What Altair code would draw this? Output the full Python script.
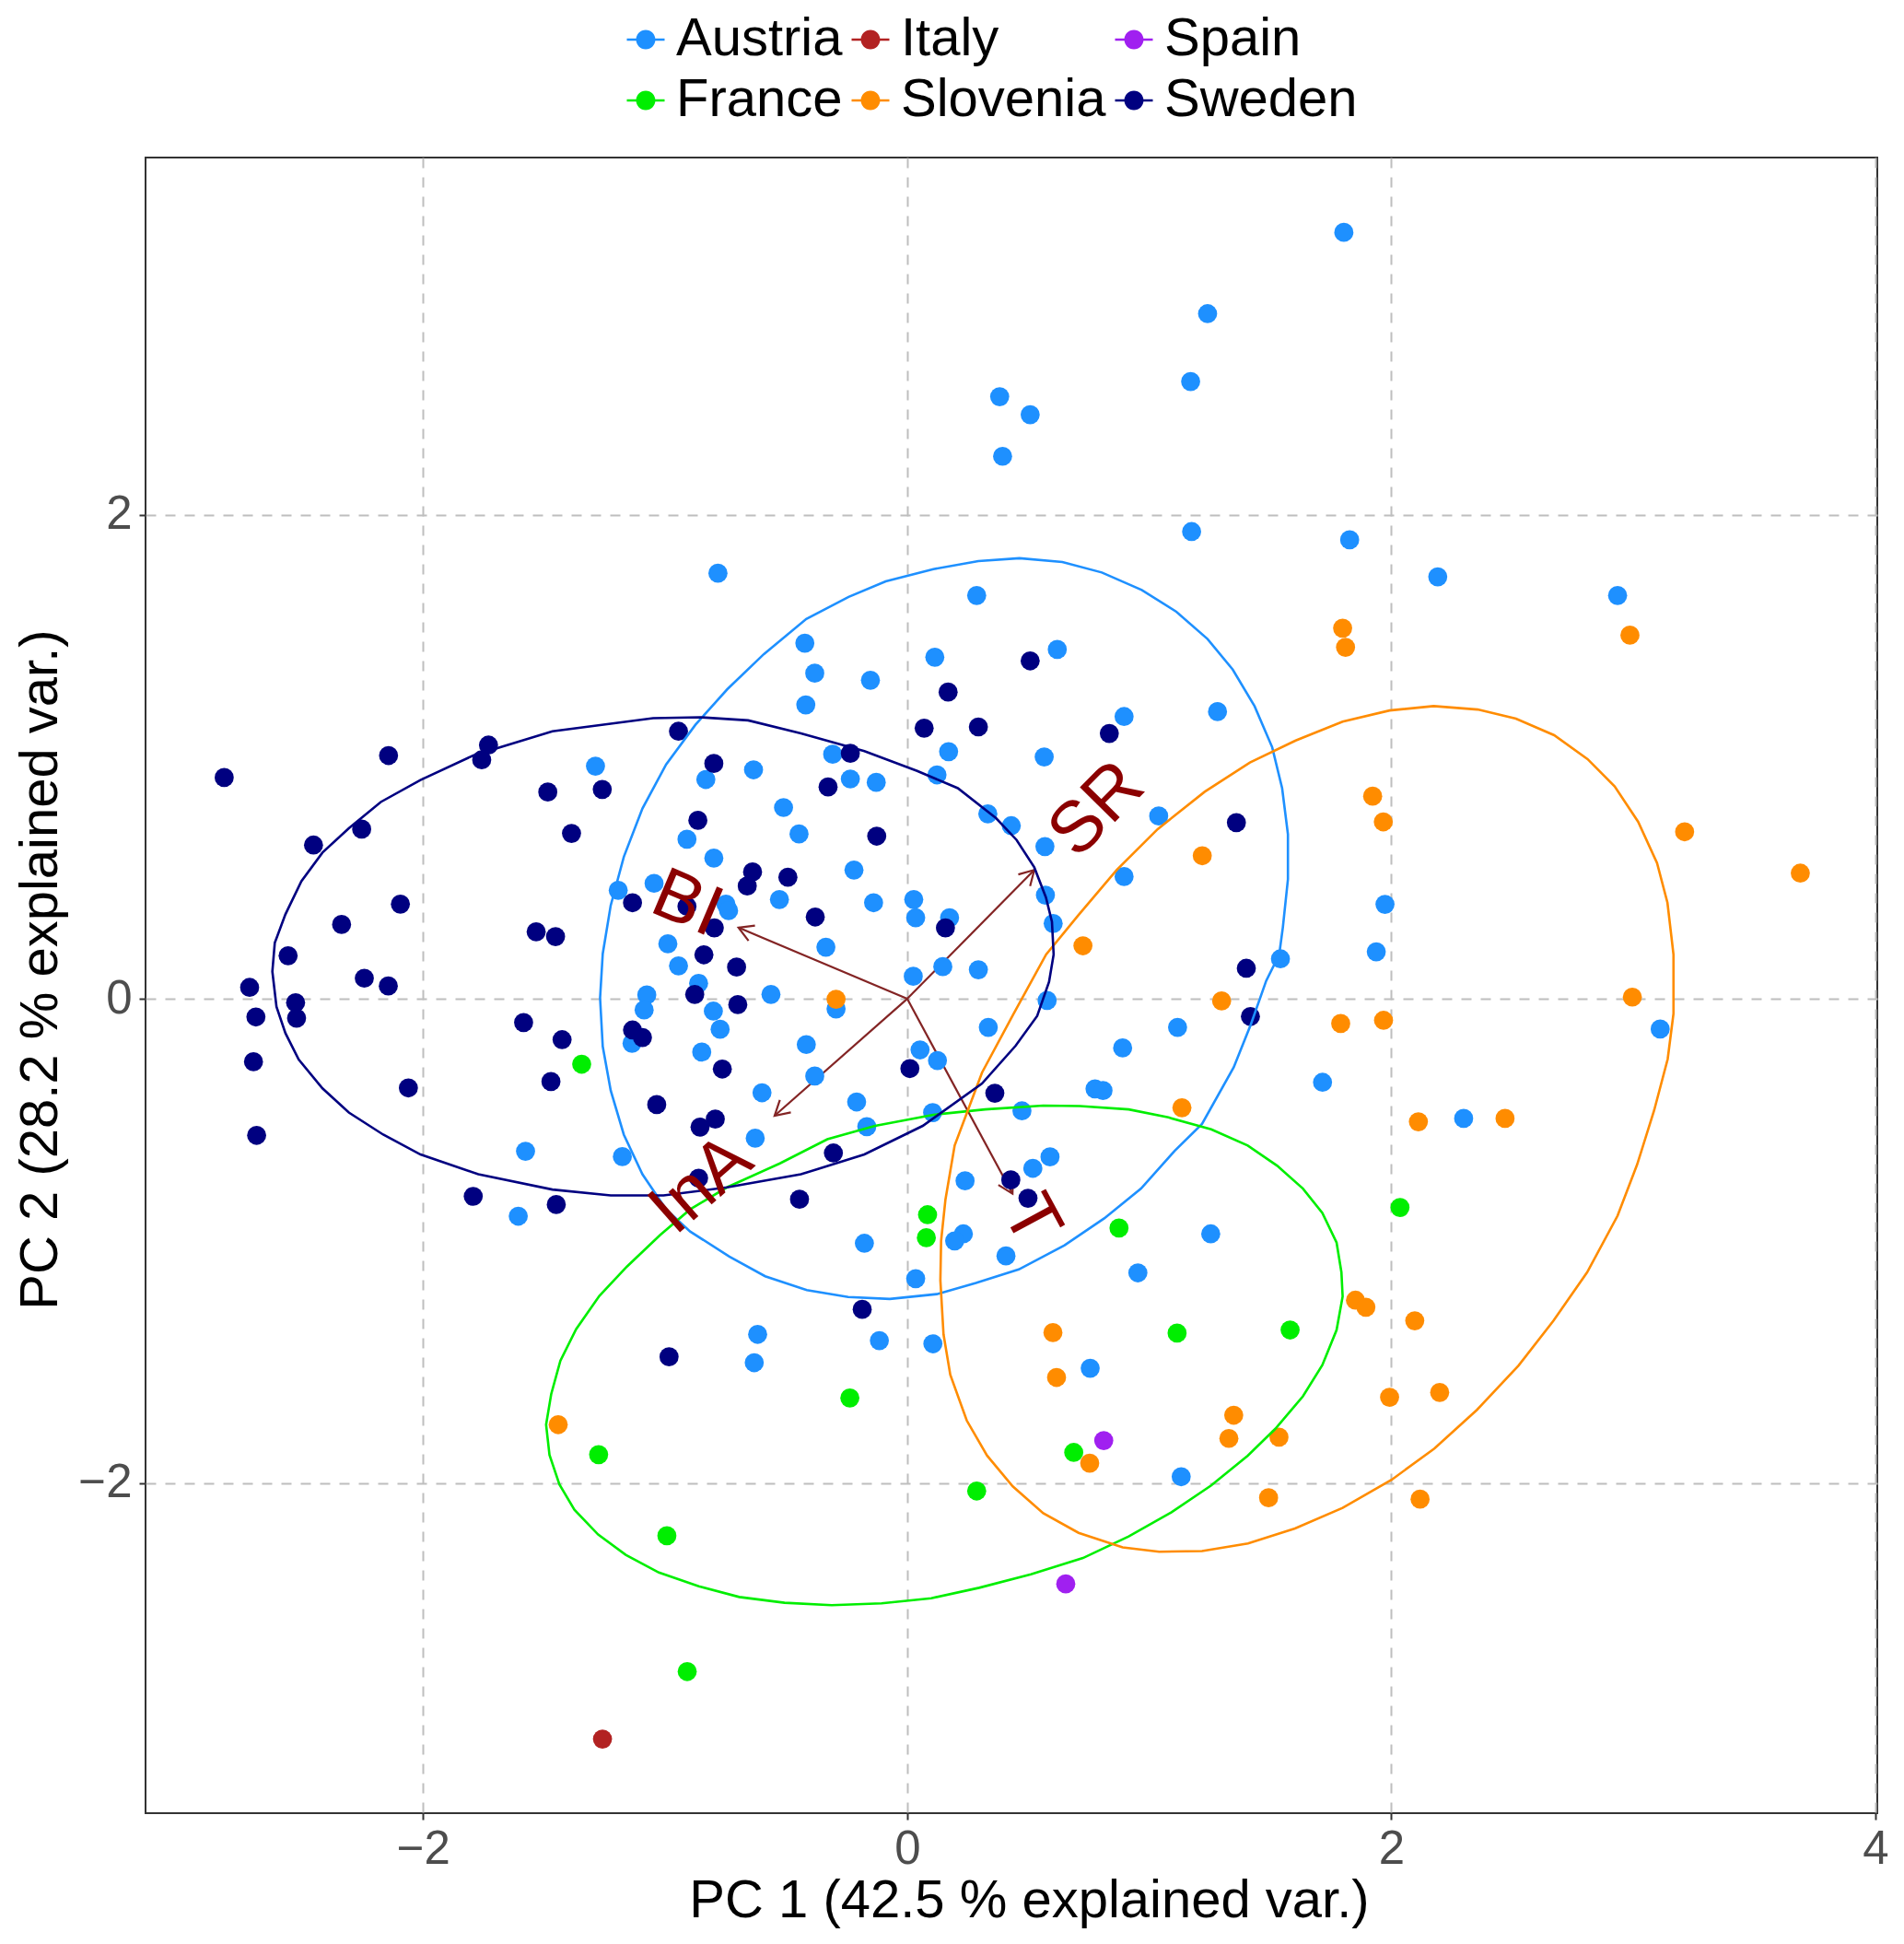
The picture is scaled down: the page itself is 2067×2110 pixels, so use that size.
import math

import altair as alt
import pandas as pd

FONT = "Liberation Sans, Arial, Helvetica, sans-serif"

# PC scores of the samples (PC1 = x, PC2 = y)
austria_x = [-0.782, -0.423, -0.382, -0.152, -0.419, 0.114, 0.171, 0.123, -0.308, -0.635,
             -0.832, -1.288, -0.235, -0.128, -0.511, -0.447, -0.910, -0.799, -0.220, -1.046,
             -1.194, -0.749, -0.738, -0.528, -0.139, 0.027, 0.035, 0.175, -0.989, -0.336,
             -0.945, -0.862, 0.025, 0.147, -1.076, -1.087, -0.563, -0.801, -0.773, -0.294,
             -1.137, -0.417, -0.849, 0.053, 0.125, -0.382, -0.600, -0.209, 0.105, -0.167,
             -0.628, -1.577, -1.177, -1.607, 0.239,
             1.804, 1.241, 1.171, 0.382, 0.508, 0.394, 1.175, 1.828, 2.192, 2.935,
             0.287, 0.620, 0.896, 1.282, 0.566, 0.333, 0.430, 0.569, 1.039, 0.896,
             0.571, 0.603, 1.974, 1.938, 1.542, 0.294, 0.578,
             0.335, 1.117, 3.111, 0.890, 0.776, 0.809, 1.716, 2.299, 0.474, 0.590,
             0.519, 1.254, 0.953, 0.756, 1.132,
             0.232, 0.196, 0.408, -0.177, 0.035, -0.618, -0.632, -0.115, 0.106]
austria_y = [1.758, 1.469, 1.345, 1.316, 1.214, 1.411, 1.021, 0.925, 1.010, 0.946,
             0.906, 0.961, 0.908, 0.894, 0.790, 0.681, 0.659, 0.581, 0.532, 0.477,
             0.448, 0.391, 0.364, 0.410, 0.397, 0.410, 0.335, 0.335, 0.227, 0.213,
             0.136, 0.064, 0.093, 0.133, 0.016, -0.046, 0.018, -0.051, -0.126, -0.042,
             -0.184, -0.189, -0.220, -0.211, -0.255, -0.319, -0.388, -0.426, -0.470, -0.528,
             -0.576, -0.630, -0.652, -0.898, -0.752,
             3.166, 2.830, 2.550, 2.487, 2.413, 2.241, 1.930, 1.896, 1.743, 1.666,
             1.666, 1.443, 1.166, 1.186, 0.999, 0.764, 0.715, 0.629, 0.755, 0.505,
             0.428, 0.311, 0.390, 0.194, 0.165, 0.120, -0.007,
             -0.118, -0.118, -0.125, -0.203, -0.372, -0.379, -0.345, -0.494, -0.463, -0.653,
             -0.700, -0.971, -1.132, -1.526, -1.974,
             -0.971, -1.000, -1.062, -1.010, -1.156, -1.386, -1.503, -1.412, -1.425]

france_x = [-1.345, 0.084, 0.079, -0.237, -1.275, 0.287, -0.993, -0.909, 0.875, 2.036,
            1.115, 1.582, 0.688]
france_y = [-0.270, -0.892, -0.987, -1.649, -1.883, -2.033, -2.218, -2.779, -0.947, -0.862,
            -1.381, -1.368, -1.874]

italy_x = [-1.259]
italy_y = [-3.058]

slovenia_x = [-0.294, 1.799, 1.811, 2.986, 1.923, 1.967, 3.212, 3.690, 1.219, 0.726,
              1.299, 2.996, 1.791, 1.968, 1.135, 2.112, 2.470, 1.852, 1.895, 2.097,
              0.602, 0.617, 1.993, 2.200, 1.349, 1.329, 1.536, 0.754, 1.493, 2.119, -1.442]
slovenia_y = [-0.002, 1.531, 1.452, 1.502, 0.837, 0.731, 0.690, 0.519, 0.591, 0.219,
              -0.009, 0.007, -0.102, -0.089, -0.450, -0.508, -0.494, -1.245, -1.274, -1.330,
              -1.379, -1.564, -1.646, -1.626, -1.720, -1.816, -1.811, -1.918, -2.061, -2.067, -1.759]

spain_x = [0.812, 0.655]
spain_y = [-1.825, -2.417]

sweden_x = [-2.822, -2.143, -1.730, -1.758, -0.945, -0.799, -1.485, -1.260, -2.254, -2.453,
            -1.387, -0.865, -0.235, -0.327, -0.126, 0.169, 0.070, -0.639, -0.661, -0.493,
            -0.910, -1.135, -0.797, -0.380, 0.158, -2.094, -2.337, -2.558, -1.533, -1.453,
            -0.840, -0.705, -2.243, -2.144, -2.717, -2.527, -2.691, -2.523, -0.878, -0.700,
            -1.585, -1.426, -1.135, -1.094, -2.701, -1.472, -0.764, -2.061, 0.011, -1.035,
            -2.688, -0.793, -0.856, -0.305, -0.862, -1.793, -1.450, -0.445,
            0.508, 0.294, 0.835, 1.360, 1.401, 1.418, 0.362, 0.428, 0.499, -0.186, -0.984]
sweden_y = [0.914, 1.005, 1.048, 0.987, 1.105, 0.972, 0.854, 0.865, 0.701, 0.635,
            0.683, 0.737, 1.014, 0.875, 0.672, 1.267, 1.118, 0.524, 0.466, 0.502,
            0.382, 0.397, 0.293, 0.338, 0.293, 0.391, 0.307, 0.178, 0.277, 0.257,
            0.182, 0.131, 0.085, 0.053, 0.047, -0.016, -0.075, -0.080, 0.018, -0.024,
            -0.098, -0.169, -0.129, -0.160, -0.260, -0.342, -0.290, -0.368, -0.288, -0.437,
            -0.564, -0.497, -0.530, -0.637, -0.741, -0.816, -0.850, -0.828,
            1.396, 1.123, 1.096, 0.728, 0.126, -0.073, -0.390, -0.748, -0.824, -1.283, -1.479]

# group ellipses
ell_austria_x = [0.464, 0.294, 0.108, -0.089, -0.242, -0.417, -0.592, -0.744, -0.875, -0.996,
                 -1.094, -1.171, -1.225, -1.258, -1.269, -1.258, -1.225, -1.171, -1.094, -0.996,
                 -0.897, -0.735, -0.587, -0.415, -0.244, -0.072, 0.122, 0.284, 0.461, 0.650,
                 0.814, 0.966, 1.105, 1.218, 1.349, 1.420, 1.483, 1.537, 1.552, 1.573,
                 1.573, 1.549, 1.508, 1.435, 1.345, 1.241, 1.112, 0.969, 0.804, 0.641]
ell_austria_y = [1.820, 1.808, 1.775, 1.724, 1.660, 1.569, 1.424, 1.278, 1.132, 0.968,
                 0.786, 0.586, 0.386, 0.186, 0.003, -0.197, -0.379, -0.561, -0.725, -0.870,
                 -0.961, -1.065, -1.146, -1.203, -1.232, -1.240, -1.220, -1.174, -1.118, -1.018,
                 -0.907, -0.784, -0.628, -0.517, -0.283, -0.105, 0.074, 0.183, 0.295, 0.494,
                 0.679, 0.870, 1.039, 1.209, 1.360, 1.486, 1.599, 1.689, 1.761, 1.804]

ell_france_x = [0.713, 0.562, 0.322, 0.108, -0.133, -0.330, -0.526, -0.745, -0.897, -1.021,
                -1.158, -1.272, -1.368, -1.433, -1.471, -1.492, -1.478, -1.437, -1.375, -1.277,
                -1.163, -1.026, -0.861, -0.694, -0.507, -0.312, -0.106, 0.099, 0.297, 0.511,
                0.726, 0.915, 1.092, 1.256, 1.407, 1.521, 1.635, 1.715, 1.774, 1.799,
                1.794, 1.774, 1.715, 1.635, 1.529, 1.407, 1.256, 1.079, 0.915]
ell_france_y = [-0.443, -0.441, -0.457, -0.479, -0.525, -0.580, -0.680, -0.779, -0.870, -0.976,
                -1.106, -1.227, -1.365, -1.495, -1.633, -1.759, -1.884, -2.006, -2.111, -2.213,
                -2.297, -2.370, -2.427, -2.471, -2.495, -2.505, -2.497, -2.476, -2.433, -2.377,
                -2.310, -2.221, -2.121, -2.010, -1.887, -1.776, -1.642, -1.513, -1.368, -1.230,
                -1.130, -1.007, -0.884, -0.784, -0.690, -0.606, -0.539, -0.490, -0.457]

ell_slovenia_x = [2.175, 1.993, 1.799, 1.605, 1.416, 1.229, 1.035, 0.865, 0.707, 0.574,
                  0.440, 0.309, 0.196, 0.158, 0.140, 0.137, 0.150, 0.178, 0.246, 0.330,
                  0.436, 0.562, 0.708, 0.890, 1.041, 1.218, 1.408, 1.602, 1.799, 2.001,
                  2.178, 2.354, 2.526, 2.670, 2.809, 2.935, 3.016, 3.086, 3.142, 3.166,
                  3.166, 3.141, 3.098, 3.020, 2.923, 2.811, 2.673, 2.515, 2.357]
ell_slovenia_y = [1.209, 1.191, 1.145, 1.067, 0.976, 0.855, 0.701, 0.532, 0.345, 0.183,
                  -0.061, -0.305, -0.606, -0.829, -1.000, -1.163, -1.386, -1.553, -1.742, -1.887,
                  -2.014, -2.125, -2.206, -2.266, -2.284, -2.281, -2.250, -2.188, -2.103, -1.987,
                  -1.858, -1.698, -1.515, -1.330, -1.130, -0.896, -0.684, -0.461, -0.249, -0.061,
                  0.183, 0.397, 0.561, 0.731, 0.877, 0.990, 1.089, 1.157, 1.195]

ell_sweden_x = [-0.854, -1.050, -1.466, -1.793, -2.011, -2.175, -2.307, -2.416, -2.503, -2.569,
                -2.613, -2.623, -2.606, -2.569, -2.514, -2.416, -2.307, -2.165, -2.011, -1.772,
                -1.466, -1.225, -1.007, -0.745, -0.439, -0.177, 0.064, 0.309, 0.448, 0.537,
                0.586, 0.605, 0.598, 0.573, 0.525, 0.452, 0.367, 0.209, 0.041, -0.177,
                -0.439, -0.657]
ell_sweden_y = [1.163, 1.159, 1.105, 1.005, 0.904, 0.813, 0.704, 0.604, 0.486, 0.349,
                0.231, 0.113, -0.033, -0.142, -0.251, -0.370, -0.470, -0.561, -0.643, -0.725,
                -0.788, -0.812, -0.812, -0.779, -0.725, -0.643, -0.525, -0.350, -0.194, -0.071,
                0.070, 0.183, 0.318, 0.419, 0.543, 0.656, 0.746, 0.870, 0.941, 1.023,
                1.096, 1.150]

# variable loadings (arrow tips) and where their names sit
var_names = ["SR", "BI", "InA", "T"]
var_x = [0.525, -0.697, -0.548, 0.435]
var_y = [0.532, 0.294, -0.483, -0.805]
var_label_x = [0.785, -0.91, -0.85, 0.51]
var_label_y = [0.78, 0.39, -0.77, -0.915]

# the legend fills column by column, like ggplot's two-row legend
countries = ["Austria", "France", "Italy", "Slovenia", "Spain", "Sweden"]
colours = {
    "Austria": "#1E90FF",
    "France": "#00EE00",
    "Italy": "#B22222",
    "Slovenia": "#FF8C00",
    "Spain": "#A020F0",
    "Sweden": "#000080",
}


def group_frame(name, xs, ys):
    assert len(xs) == len(ys), name
    return pd.DataFrame({"country": name, "pc1": xs, "pc2": ys, "idx": range(len(xs))})


scores = pd.concat(
    [
        group_frame("Austria", austria_x, austria_y),
        group_frame("France", france_x, france_y),
        group_frame("Italy", italy_x, italy_y),
        group_frame("Slovenia", slovenia_x, slovenia_y),
        group_frame("Spain", spain_x, spain_y),
        group_frame("Sweden", sweden_x, sweden_y),
    ],
    ignore_index=True,
)

ellipses = pd.concat(
    [
        group_frame("Austria", ell_austria_x, ell_austria_y),
        group_frame("France", ell_france_x, ell_france_y),
        group_frame("Slovenia", ell_slovenia_x, ell_slovenia_y),
        group_frame("Sweden", ell_sweden_x, ell_sweden_y),
    ],
    ignore_index=True,
)
ell_groups = ["Austria", "France", "Slovenia", "Sweden"]

arrows = pd.DataFrame({"var": var_names, "pc1": var_x, "pc2": var_y})
# rotation of the open arrow head (points up when angle is 0, clockwise degrees)
arrows["head_angle"] = [math.degrees(math.atan2(x, y)) % 360 for x, y in zip(var_x, var_y)]

labels = pd.DataFrame({"var": var_names, "pc1": var_label_x, "pc2": var_label_y})
# ggbiplot turns each name along its arrow
labels["angle"] = [(-math.degrees(math.atan(y / x))) % 360 for x, y in zip(var_x, var_y)]

x_scale = alt.Scale(domain=[-3.147, 4.008], nice=False, zero=False)
y_scale = alt.Scale(domain=[-3.364, 3.475], nice=False, zero=False)

common_axis = dict(
    grid=True,
    gridColor="#BEBEBE",
    gridDash=[11, 10],
    gridWidth=2,
    domain=False,
    ticks=True,
    tickSize=7,
    tickWidth=2,
    tickColor="#333333",
    labelFont=FONT,
    labelFontSize=51,
    labelColor="#4D4D4D",
    labelFlush=False,
    labelOverlap=False,
    titleFont=FONT,
    titleFontSize=58,
    titleFontWeight="normal",
    titleColor="black",
    titleBaseline="alphabetic",
    titleAlign="center",
)
x_axis = alt.Axis(values=[-2, 0, 2, 4], labelPadding=7, titleX=959, titleY=112, **common_axis)
y_axis = alt.Axis(values=[-2, 0, 2], labelPadding=8, titleAngle=270, titleX=-97, titleY=881,
                  **common_axis)


def xenc(field="pc1"):
    return alt.X(f"{field}:Q", scale=x_scale, axis=x_axis, title="PC 1 (42.5 % explained var.)")


def yenc(field="pc2"):
    return alt.Y(f"{field}:Q", scale=y_scale, axis=y_axis, title="PC 2 (28.2 % explained var.)")


ARROW = "#832424"
HEAD = "M-0.5,0.866L0,0L0.5,0.866"
# legend key: a short line with a dot on it (both clockwise so they fill as one)
KEY = "M-1,-0.06H1V0.06H-1Z M-0.51,0A0.51,0.51,0,1,1,0.51,0A0.51,0.51,0,1,1,-0.51,0Z"

segments = alt.Chart(arrows).mark_rule(color=ARROW, strokeWidth=2.2).encode(
    x=xenc(), y=yenc(), x2=alt.datum(0), y2=alt.datum(0)
)

heads = alt.Chart(arrows).mark_point(
    shape=HEAD, filled=False, size=1296, color=ARROW, strokeWidth=2.2, opacity=1
).encode(x=xenc(), y=yenc(), angle=alt.Angle("head_angle:Q", scale=None))

dots = alt.Chart(scores).mark_circle(size=430, opacity=1).encode(
    x=xenc(),
    y=yenc(),
    color=alt.Color(
        "country:N",
        scale=alt.Scale(domain=countries, range=[colours[c] for c in countries]),
        legend=alt.Legend(
            title=None,
            orient="none",
            legendX=514,
            legendY=-157,
            columns=3,
            symbolType=KEY,
            symbolSize=1681,
            symbolStrokeWidth=0,
            symbolOpacity=1,
            labelFont=FONT,
            labelFontSize=58,
            labelColor="black",
            labelOffset=4,
            labelLimit=600,
            columnPadding=1,
            rowPadding=8,
            padding=0,
        ),
    ),
)

rings = alt.Chart(ellipses).mark_line(strokeWidth=2.6, interpolate="linear-closed").encode(
    x=xenc(),
    y=yenc(),
    stroke=alt.Stroke(
        "country:N",
        scale=alt.Scale(domain=ell_groups, range=[colours[c] for c in ell_groups]),
        legend=None,
    ),
    order=alt.Order("idx:Q"),
)

names = alt.Chart(labels).mark_text(
    font=FONT, fontSize=78, color="#8B0000", align="center", baseline="middle"
).encode(x=xenc(), y=yenc(), text="var:N", angle=alt.Angle("angle:Q", scale=None))

chart = (
    alt.layer(segments, heads, dots, rings, names)
    .properties(
        width=1880,
        height=1797,
        padding={"left": 150, "top": 163, "right": 21, "bottom": 130},
        autosize=alt.AutoSizeParams(type="none"),
    )
    .configure_view(stroke="#333333", strokeWidth=2)
)

chart.save("out.html", embed_options={"renderer": "svg", "actions": False})
